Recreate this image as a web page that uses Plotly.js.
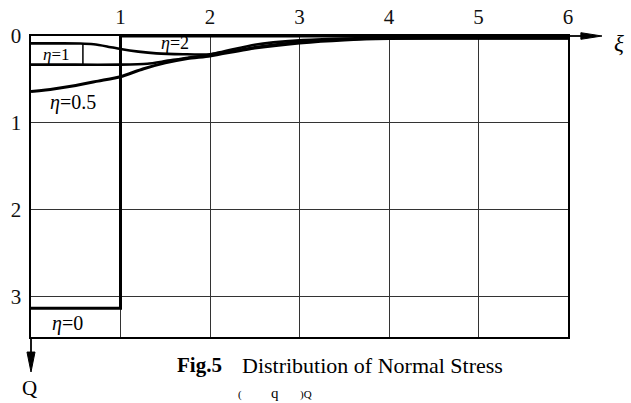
<!DOCTYPE html>
<html>
<head>
<meta charset="utf-8">
<script src="https://cdn.plot.ly/plotly-3.0.1.min.js"></script>
<style>html,body{margin:0;padding:0;background:#fff;}#chart{width:631px;height:403px;}</style>
</head>
<body>
<div id="chart"></div>
<script>
// ---- data ----
var xiTicks = [1, 2, 3, 4, 5, 6];
var qTicks = [0, 1, 2, 3];

var eta0Xi = [0, 1, 1, 6];
var eta0Q  = [3.14, 3.14, 0, 0];

var eta05Xi = [0, 0.25, 0.5, 0.75, 1.0, 1.25, 1.5, 1.75, 2.0, 2.5, 3.0, 3.5, 4.0, 5.0, 6.0];
var eta05Q  = [0.64, 0.61, 0.57, 0.52, 0.47, 0.38, 0.31, 0.26, 0.23, 0.14, 0.08, 0.045, 0.03, 0.025, 0.025];

var eta1Xi = [0, 0.5, 1.0, 1.3, 1.5, 1.75, 2.0, 2.5, 3.0, 3.5, 4.0, 5.0, 6.0];
var eta1Q  = [0.33, 0.33, 0.33, 0.32, 0.29, 0.25, 0.22, 0.13, 0.07, 0.04, 0.025, 0.025, 0.025];

var eta2Xi = [0, 0.3, 0.55, 0.7, 0.85, 1.0, 1.2, 1.4, 1.7, 2.0, 2.5, 3.0, 3.5, 4.0, 5.0, 6.0];
var eta2Q  = [0.085, 0.085, 0.086, 0.095, 0.12, 0.15, 0.18, 0.2, 0.21, 0.21, 0.1, 0.05, 0.03, 0.02, 0.02, 0.02];

var curveLabels = ['<i>η</i>=0', '<i>η</i>=0.5', '<i>η</i>=1', '<i>η</i>=2'];

var traces = [
  {x: eta0Xi, y: eta0Q, mode: 'lines', line: {color: '#000', width: 3}, name: curveLabels[0]},
  {x: eta05Xi, y: eta05Q, mode: 'lines', line: {color:'#000', width:3, shape:'spline', smoothing:0.6}, name: curveLabels[1]},
  {x: eta1Xi, y: eta1Q, mode: 'lines', line: {color:'#000', width:2.6, shape:'spline', smoothing:0.6}, name: curveLabels[2]},
  {x: eta2Xi, y: eta2Q, mode: 'lines', line: {color:'#000', width:2.6, shape:'spline', smoothing:0.6}, name: curveLabels[3]}
];

var serif = 'Liberation Serif, DejaVu Serif, serif';

function ann(xref, yref, x, y, text, size, extra) {
  var a = {xref: xref, yref: yref, x: x, y: y, text: text, showarrow: false,
           xanchor: 'center', yanchor: 'middle',
           font: {family: serif, size: size, color: '#000'}};
  if (extra) for (var k in extra) a[k] = extra[k];
  return a;
}
function px(xp) { return (xp - 31) / 537; }   // page pixel -> paper x
function py(yp) { return (337 - yp) / 301; }  // page pixel -> paper y

var layout = {
  width: 631, height: 403,
  margin: {l: 31, r: 63, t: 36, b: 66, pad: 0},
  paper_bgcolor: '#fff', plot_bgcolor: '#fff',
  showlegend: false,
  xaxis: {
    range: [0, 6], side: 'top', tickvals: xiTicks, ticktext: xiTicks.map(String),
    showgrid: true, gridcolor: '#333', gridwidth: 1, zeroline: false,
    showline: true, linecolor: '#000', linewidth: 1.6, mirror: true,
    ticks: '', ticklabelstandoff: 2,
    tickfont: {family: serif, size: 21, color: '#111'}
  },
  yaxis: {
    range: [3.47, 0], tickvals: qTicks, ticktext: qTicks.map(String),
    showgrid: true, gridcolor: '#333', gridwidth: 1, zeroline: false,
    showline: true, linecolor: '#000', linewidth: 1.6, mirror: true,
    ticks: '', ticklabelstandoff: 4,
    tickfont: {family: serif, size: 21, color: '#111'}
  },
  shapes: [
    {type: 'line', xref: 'paper', yref: 'paper', x0: 1, x1: 1.03, y0: 1, y1: 1, line: {color: '#000', width: 1.8}},
    {type: 'path', xref: 'paper', yref: 'paper', path: 'M 1.024 1.011 L 1.0633 1.0 L 1.024 0.989 Z', fillcolor: '#000', line: {color: '#000', width: 1}},
    {type: 'line', xref: 'paper', yref: 'paper', x0: 0, x1: 0, y0: 0, y1: -0.06, line: {color: '#000', width: 1.8}},
    {type: 'path', xref: 'paper', yref: 'paper', path: 'M -0.0075 -0.05 L 0 -0.1163 L 0.0075 -0.05 Z', fillcolor: '#000', line: {color: '#000', width: 1}},
    {type: 'line', xref: 'x', yref: 'y', x0: 0.58, x1: 0.58, y0: 0.085, y1: 0.33, line: {color: '#000', width: 1.5}}
  ],
  annotations: [
    ann('x', 'y', 0.29, 0.215, curveLabels[2], 17),
    ann('x', 'y', 1.61, 0.075, curveLabels[3], 18),
    ann('x', 'y', 0.47, 0.77, curveLabels[1], 20),
    ann('x', 'y', 0.41, 3.31, curveLabels[0], 20),
    ann('paper', 'paper', px(619), py(44), '<i>ξ</i>', 23),
    ann('paper', 'paper', px(29), py(388), 'Q', 21),
    ann('paper', 'paper', px(224), py(365), '<b>Fig.5</b>', 21, {xanchor: 'right'}),
    ann('paper', 'paper', px(240), py(365), 'Distribution of Normal Stress', 22, {xanchor: 'left'}),
    ann('paper', 'paper', px(275), py(383), 'q', 15, {yanchor: 'top'}),
    ann('paper', 'paper', px(240), py(386), '(', 11, {yanchor: 'top'}),
    ann('paper', 'paper', px(306), py(386), ')Q', 11, {yanchor: 'top'})
  ]
};

Plotly.newPlot('chart', traces, layout, {displayModeBar: false, staticPlot: true});
</script>
</body>
</html>
